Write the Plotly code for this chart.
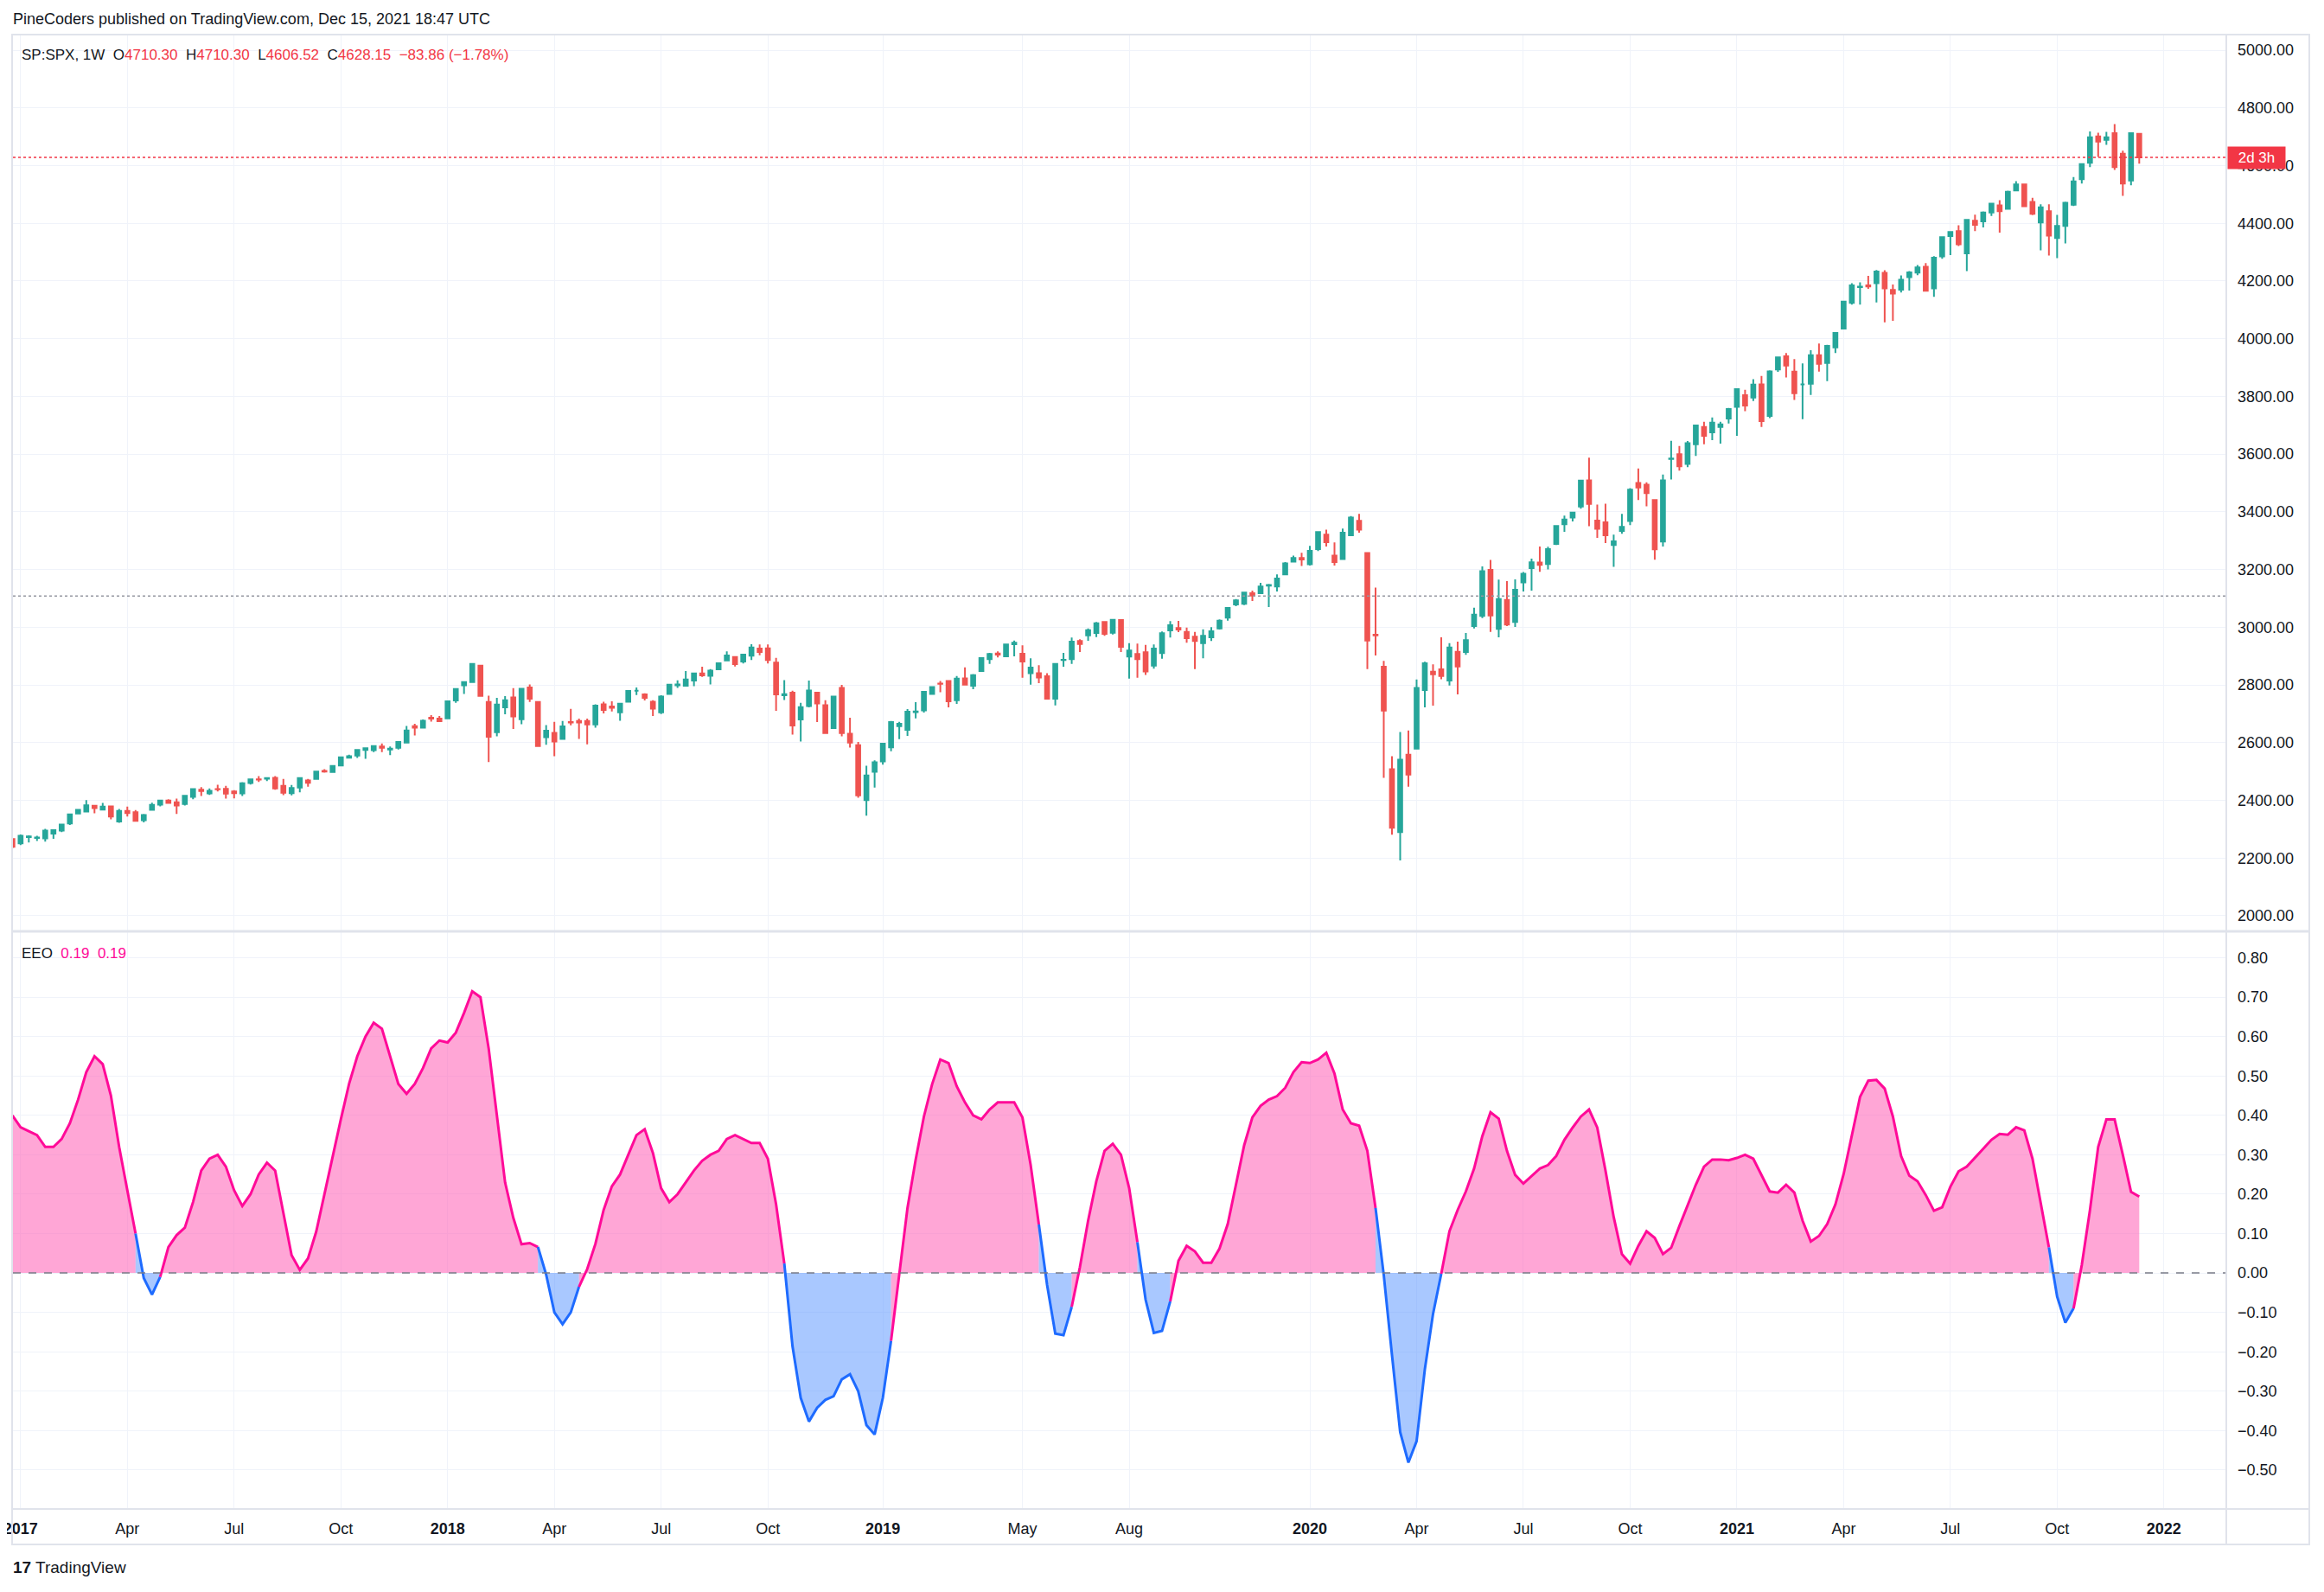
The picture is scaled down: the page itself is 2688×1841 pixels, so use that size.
import pandas as pd
import plotly.graph_objects as go

# ---------------- data ----------------
WEEKS = pd.date_range("2016-12-26", periods=260, freq="7D")  # weekly bars (Monday stamps)

OPEN = [2266, 2251, 2273, 2270, 2268, 2285, 2295, 2320, 2354, 2361,
        2381, 2368, 2379, 2327, 2363, 2359, 2331, 2367, 2385, 2399,
        2393, 2387, 2412, 2437, 2424, 2439, 2440, 2431, 2424, 2460,
        2473, 2475, 2478, 2450, 2425, 2444, 2469, 2474, 2502, 2498,
        2521, 2548, 2555, 2575, 2574, 2587, 2576, 2582, 2600, 2657,
        2652, 2686, 2683, 2684, 2746, 2799, 2810, 2867, 2741, 2636,
        2722, 2757, 2681, 2791, 2741, 2619, 2634, 2613, 2671, 2675,
        2675, 2663, 2733, 2725, 2705, 2742, 2780, 2767, 2742, 2705,
        2769, 2799, 2797, 2815, 2840, 2832, 2854, 2885, 2897, 2881,
        2901, 2926, 2927, 2877, 2764, 2773, 2680, 2727, 2773, 2730,
        2650, 2790, 2631, 2591, 2401, 2499, 2535, 2584, 2657, 2644,
        2706, 2712, 2769, 2805, 2814, 2747, 2823, 2797, 2848, 2889,
        2909, 2899, 2941, 2908, 2841, 2841, 2830, 2752, 2886, 2889,
        2952, 2972, 2980, 3018, 2981, 3025, 2898, 2907, 2913, 2867,
        2910, 2989, 2997, 2984, 2967, 2945, 2965, 2996, 3033, 3079,
        3081, 3118, 3118, 3144, 3141, 3183, 3227, 3240, 3218, 3271,
        3321, 3248, 3236, 3319, 3369, 3257, 2974, 2863, 2508, 2290,
        2558, 2579, 2782, 2846, 2854, 2815, 2915, 2914, 3004, 3039,
        3199, 2994, 3095, 3018, 3155, 3205, 3224, 3219, 3289, 3357,
        3380, 3418, 3509, 3370, 3364, 3285, 3334, 3368, 3500, 3494,
        3441, 3297, 3583, 3600, 3566, 3634, 3694, 3675, 3694, 3723,
        3764, 3804, 3796, 3842, 3732, 3893, 3939, 3886, 3842, 3844,
        3943, 3916, 3970, 4035, 4124, 4179, 4185, 4192, 4228, 4169,
        4170, 4213, 4229, 4249, 4174, 4285, 4356, 4373, 4296, 4409,
        4407, 4437, 4462, 4450, 4514, 4535, 4474, 4403, 4442, 4349,
        4391, 4464, 4553, 4610, 4701, 4689, 4712, 4641, 4548, 4710.30]

HIGH = [2267, 2282, 2279, 2277, 2301, 2300, 2319, 2352, 2368, 2401,
        2382, 2391, 2382, 2370, 2378, 2366, 2353, 2392, 2399, 2404,
        2406, 2418, 2441, 2446, 2441, 2454, 2450, 2435, 2463, 2474,
        2484, 2478, 2484, 2474, 2453, 2480, 2474, 2500, 2508, 2520,
        2552, 2558, 2575, 2583, 2588, 2597, 2587, 2605, 2658, 2665,
        2680, 2695, 2692, 2743, 2787, 2808, 2873, 2870, 2763, 2755,
        2761, 2789, 2787, 2802, 2742, 2661, 2672, 2675, 2717, 2683,
        2683, 2733, 2742, 2743, 2737, 2779, 2791, 2771, 2747, 2764,
        2804, 2816, 2848, 2841, 2863, 2855, 2877, 2916, 2900, 2906,
        2941, 2940, 2940, 2894, 2817, 2780, 2738, 2815, 2775, 2747,
        2760, 2800, 2686, 2602, 2520, 2539, 2597, 2675, 2672, 2716,
        2740, 2776, 2794, 2814, 2817, 2831, 2861, 2838, 2894, 2911,
        2916, 2940, 2954, 2937, 2892, 2868, 2841, 2876, 2911, 2964,
        2958, 2996, 3018, 3018, 3028, 3028, 2945, 2943, 2939, 2940,
        2985, 3021, 3022, 2999, 2984, 2993, 3000, 3027, 3067, 3098,
        3121, 3127, 3154, 3150, 3183, 3226, 3248, 3258, 3282, 3330,
        3338, 3294, 3342, 3385, 3393, 3260, 3137, 2883, 2553, 2637,
        2642, 2819, 2880, 2871, 2965, 2945, 2950, 2980, 3068, 3211,
        3233, 3165, 3160, 3166, 3191, 3238, 3280, 3279, 3352, 3387,
        3400, 3509, 3588, 3425, 3428, 3321, 3393, 3482, 3550, 3502,
        3441, 3529, 3646, 3628, 3645, 3701, 3712, 3727, 3712, 3760,
        3827, 3823, 3860, 3871, 3890, 3937, 3950, 3929, 3914, 3960,
        3983, 3979, 4020, 4130, 4192, 4195, 4218, 4238, 4237, 4188,
        4219, 4234, 4255, 4262, 4286, 4355, 4373, 4393, 4415, 4430,
        4441, 4470, 4480, 4513, 4546, 4536, 4488, 4466, 4466, 4429,
        4475, 4560, 4608, 4718, 4714, 4717, 4744, 4652, 4713, 4710.30]

LOW = [2234, 2245, 2254, 2259, 2257, 2267, 2290, 2315, 2352, 2358,
       2355, 2366, 2334, 2322, 2344, 2328, 2324, 2367, 2379, 2389,
       2353, 2382, 2404, 2415, 2419, 2431, 2406, 2407, 2415, 2455,
       2464, 2467, 2437, 2418, 2417, 2428, 2447, 2474, 2496, 2495,
       2521, 2546, 2547, 2544, 2567, 2567, 2557, 2576, 2598, 2625,
       2651, 2673, 2673, 2682, 2738, 2769, 2809, 2759, 2533, 2622,
       2698, 2647, 2664, 2741, 2586, 2593, 2553, 2611, 2660, 2613,
       2594, 2652, 2701, 2708, 2676, 2741, 2765, 2746, 2692, 2699,
       2766, 2790, 2795, 2796, 2828, 2802, 2853, 2884, 2864, 2874,
       2886, 2903, 2874, 2710, 2748, 2628, 2604, 2722, 2671, 2631,
       2649, 2622, 2583, 2409, 2347, 2444, 2524, 2570, 2612, 2623,
       2684, 2704, 2766, 2775, 2722, 2734, 2800, 2785, 2848, 2873,
       2895, 2899, 2899, 2825, 2801, 2806, 2750, 2729, 2863, 2873,
       2914, 2953, 2966, 2970, 2975, 2914, 2822, 2825, 2835, 2856,
       2891, 2964, 2983, 2946, 2855, 2892, 2952, 2992, 3023, 3073,
       3077, 3091, 3118, 3070, 3124, 3183, 3227, 3212, 3214, 3264,
       3280, 3214, 3234, 3316, 3328, 2855, 2902, 2478, 2281, 2192,
       2447, 2579, 2722, 2728, 2820, 2798, 2767, 2904, 2996, 3032,
       2984, 2965, 3004, 3001, 3124, 3127, 3192, 3200, 3285, 3331,
       3367, 3411, 3350, 3310, 3292, 3209, 3324, 3354, 3441, 3419,
       3234, 3280, 3512, 3543, 3555, 3594, 3634, 3648, 3636, 3706,
       3663, 3749, 3784, 3694, 3725, 3885, 3866, 3788, 3721, 3805,
       3886, 3853, 3950, 4035, 4118, 4118, 4173, 4126, 4057, 4062,
       4160, 4167, 4220, 4165, 4145, 4277, 4290, 4321, 4234, 4373,
       4386, 4425, 4368, 4448, 4513, 4457, 4428, 4306, 4288, 4279,
       4330, 4460, 4538, 4595, 4630, 4672, 4585, 4495, 4532, 4606.52]

CLOSE = [2239, 2277, 2275, 2271, 2295, 2297, 2316, 2351, 2367, 2383,
         2373, 2378, 2344, 2363, 2356, 2329, 2349, 2384, 2399, 2391,
         2382, 2416, 2439, 2432, 2433, 2438, 2423, 2425, 2459, 2473,
         2472, 2477, 2441, 2426, 2443, 2477, 2461, 2500, 2500, 2519,
         2549, 2553, 2575, 2581, 2588, 2582, 2579, 2602, 2642, 2652,
         2676, 2683, 2674, 2743, 2786, 2810, 2873, 2762, 2620, 2732,
         2747, 2691, 2787, 2752, 2588, 2641, 2604, 2656, 2670, 2670,
         2663, 2728, 2713, 2721, 2735, 2779, 2780, 2755, 2718, 2760,
         2801, 2802, 2819, 2840, 2833, 2850, 2875, 2902, 2872, 2905,
         2930, 2914, 2886, 2767, 2768, 2659, 2723, 2781, 2736, 2633,
         2760, 2633, 2600, 2417, 2486, 2532, 2596, 2671, 2665, 2707,
         2708, 2776, 2793, 2804, 2743, 2822, 2801, 2834, 2893, 2907,
         2905, 2940, 2946, 2881, 2860, 2826, 2752, 2873, 2887, 2950,
         2942, 2990, 3014, 2977, 3026, 2932, 2919, 2889, 2847, 2926,
         2979, 3007, 2992, 2962, 2952, 2970, 2986, 3023, 3067, 3093,
         3120, 3110, 3141, 3146, 3169, 3221, 3240, 3235, 3265, 3330,
         3295, 3226, 3328, 3380, 3338, 2954, 2972, 2711, 2305, 2541,
         2489, 2790, 2875, 2837, 2831, 2930, 2864, 2955, 3044, 3194,
         3041, 3098, 3009, 3130, 3185, 3225, 3216, 3271, 3351, 3373,
         3397, 3508, 3427, 3341, 3319, 3298, 3348, 3477, 3484, 3465,
         3270, 3509, 3585, 3558, 3638, 3699, 3663, 3709, 3703, 3756,
         3825, 3768, 3841, 3714, 3887, 3935, 3907, 3811, 3842, 3943,
         3913, 3975, 4020, 4129, 4185, 4180, 4181, 4233, 4174, 4156,
         4204, 4230, 4247, 4166, 4281, 4352, 4370, 4327, 4412, 4395,
         4437, 4468, 4442, 4509, 4535, 4459, 4433, 4455, 4357, 4391,
         4471, 4545, 4605, 4698, 4683, 4698, 4595, 4538, 4712.01, 4628.15]

EEO = [0.40, 0.37, 0.36, 0.35, 0.32, 0.32, 0.34, 0.38, 0.44, 0.51,
       0.55, 0.53, 0.45, 0.32, 0.21, 0.10, -0.013, -0.055, -0.01, 0.066,
       0.096, 0.115, 0.18, 0.26, 0.29, 0.30, 0.27, 0.21, 0.17, 0.20,
       0.25, 0.28, 0.26, 0.15, 0.045, 0.008, 0.037, 0.105, 0.20, 0.30,
       0.39, 0.48, 0.55, 0.60, 0.635, 0.62, 0.55, 0.48, 0.455, 0.48,
       0.52, 0.57, 0.59, 0.585, 0.61, 0.66, 0.715, 0.70, 0.57, 0.405,
       0.23, 0.14, 0.073, 0.076, 0.066, -0.004, -0.10, -0.13, -0.10, -0.035,
       0.01, 0.074, 0.16, 0.22, 0.25, 0.30, 0.35, 0.365, 0.305, 0.215,
       0.18, 0.20, 0.23, 0.26, 0.285, 0.30, 0.31, 0.34, 0.35, 0.34,
       0.33, 0.33, 0.29, 0.174, 0.024, -0.186, -0.317, -0.377, -0.342, -0.322,
       -0.313, -0.27, -0.257, -0.30, -0.386, -0.41, -0.317, -0.172, 0.002, 0.165,
       0.288, 0.397, 0.479, 0.542, 0.533, 0.474, 0.433, 0.40, 0.39, 0.415,
       0.433, 0.433, 0.433, 0.395, 0.274, 0.123, -0.03, -0.154, -0.158, -0.086,
       0.015, 0.133, 0.233, 0.31, 0.328, 0.30, 0.215, 0.078, -0.068, -0.152,
       -0.147, -0.072, 0.031, 0.069, 0.055, 0.026, 0.026, 0.062, 0.124, 0.224,
       0.324, 0.395, 0.424, 0.44, 0.449, 0.47, 0.51, 0.535, 0.533, 0.542,
       0.559, 0.506, 0.415, 0.38, 0.374, 0.31, 0.165, -0.005, -0.208, -0.404,
       -0.481, -0.427, -0.245, -0.104, -0.002, 0.106, 0.16, 0.207, 0.265, 0.347,
       0.408, 0.392, 0.31, 0.249, 0.227, 0.247, 0.265, 0.274, 0.297, 0.338,
       0.369, 0.397, 0.415, 0.369, 0.26, 0.142, 0.048, 0.024, 0.069, 0.106,
       0.089, 0.048, 0.064, 0.119, 0.172, 0.224, 0.27, 0.288, 0.288, 0.286,
       0.292, 0.30, 0.29, 0.25, 0.207, 0.204, 0.224, 0.204, 0.133, 0.08,
       0.094, 0.124, 0.174, 0.251, 0.351, 0.447, 0.488, 0.49, 0.468, 0.397,
       0.297, 0.247, 0.233, 0.198, 0.158, 0.167, 0.219, 0.258, 0.27, 0.292,
       0.315, 0.338, 0.353, 0.351, 0.37, 0.362, 0.29, 0.18, 0.065, -0.06,
       -0.126, -0.09, 0.02, 0.16, 0.32, 0.39, 0.39, 0.30, 0.206, 0.194]

TICK_DATES = ["2017-01-02", "2017-04-03", "2017-07-03", "2017-10-02", "2018-01-01",
              "2018-04-02", "2018-07-02", "2018-10-01", "2019-01-07", "2019-05-06",
              "2019-08-05", "2020-01-06", "2020-04-06", "2020-07-06", "2020-10-05",
              "2021-01-04", "2021-04-05", "2021-07-05", "2021-10-04", "2022-01-03"]
TICK_TEXT = ["<b>2017</b>", "Apr", "Jul", "Oct", "<b>2018</b>", "Apr", "Jul", "Oct",
             "<b>2019</b>", "May", "Aug", "<b>2020</b>", "Apr", "Jul", "Oct",
             "<b>2021</b>", "Apr", "Jul", "Oct", "<b>2022</b>"]
REF_LEVEL = 3108          # grey dotted price line
COUNTDOWN = "2d 3h"

# ---------------- styling ----------------
OFF = 8                       # browser body margin
W, H = 2688 - 2 * OFF, 1841 - 2 * OFF
ML, MR, MT, MB = 15 - OFF, W - (2575 - OFF), 40 - OFF, H - (1745 - OFF)
PW, PH = W - ML - MR, H - MT - MB
FONT = "Liberation Sans, Arial, sans-serif"
TXT = "#131722"
UP, DN = "#26A69A", "#EF5350"
RED = "#F23645"
GRID = "#F0F3FA"
BORDER = "#E0E3EB"
PINK_L, PINK_F = "#FF0A98", "rgba(255,93,180,0.55)"
BLUE_L, BLUE_F = "#1E6BFF", "rgba(90,150,255,0.52)"


def fx(px):   # absolute screen x -> paper
    return (px - OFF - ML) / PW


def fy(py):   # absolute screen y -> paper
    return (H - MB - (py - OFF)) / PH


fig = go.Figure()

fig.add_trace(go.Candlestick(
    x=WEEKS, open=OPEN, high=HIGH, low=LOW, close=CLOSE,
    increasing=dict(line=dict(color=UP, width=2), fillcolor=UP),
    decreasing=dict(line=dict(color=DN, width=2), fillcolor=DN),
    whiskerwidth=0, xaxis="x", yaxis="y", showlegend=False, hoverinfo="skip"))

# oscillator: segments coloured by sign of the end bar
n = len(EEO)
cols = ["neg" if v < 0 else "pos" for v in EEO]
runs = []
s = 1
for i in range(2, n + 1):
    if i == n or cols[i] != cols[s]:
        runs.append((s - 1, i - 1, cols[s]))
        s = i

xs = list(WEEKS)
for a, b, c in runs:
    px_ = [xs[a]] + xs[a:b + 1] + [xs[b]]
    py_ = [0] + EEO[a:b + 1] + [0]
    fig.add_trace(go.Scatter(x=px_, y=py_, mode="none", fill="toself",
                             fillcolor=PINK_F if c == "pos" else BLUE_F,
                             xaxis="x2", yaxis="y2", showlegend=False, hoverinfo="skip"))
for a, b, c in runs:
    fig.add_trace(go.Scatter(x=xs[a:b + 1], y=EEO[a:b + 1], mode="lines",
                             line=dict(color=PINK_L if c == "pos" else BLUE_L, width=3),
                             xaxis="x2", yaxis="y2", showlegend=False, hoverinfo="skip"))

xr = ["2016-12-26 12:00", "2022-02-25 05:00"]
fig.update_layout(
    width=W, height=H, margin=dict(l=ML, r=MR, t=MT, b=MB, autoexpand=False),
    paper_bgcolor="white", plot_bgcolor="white", showlegend=False,
    font=dict(family=FONT, size=18, color=TXT),
    xaxis=dict(type="date", range=xr, domain=[0, 1], anchor="y", showticklabels=False,
               tickvals=TICK_DATES, showgrid=True, gridcolor=GRID, gridwidth=1.2,
               rangeslider=dict(visible=False), zeroline=False, showline=False, ticks="",
               automargin=False),
    xaxis2=dict(type="date", range=xr, domain=[0, 1], anchor="y2", matches="x",
                tickvals=TICK_DATES, ticktext=TICK_TEXT, showgrid=True, gridcolor=GRID,
                gridwidth=1.2, zeroline=False, showline=False, ticks="",
                tickfont=dict(size=18, color=TXT), ticklabelstandoff=10, automargin=False,
                ticklabeloverflow="allow"),
    yaxis=dict(domain=[fy(1076), 1], range=[1949, 5054], side="right", anchor="x",
               dtick=200, tick0=2000, tickformat=".2f", showgrid=True, gridcolor=GRID,
               gridwidth=1.2, zeroline=False, ticks="", ticklabelstandoff=12,
               tickfont=dict(size=18, color=TXT), automargin=False),
    yaxis2=dict(domain=[0, fy(1078)], range=[-0.599, 0.865], side="right", anchor="x2",
                dtick=0.1, tick0=0, tickformat=".2f", showgrid=True, gridcolor=GRID,
                gridwidth=1.2, zeroline=False, ticks="", ticklabelstandoff=12,
                tickfont=dict(size=18, color=TXT), automargin=False),
)

shapes = [
    dict(type="line", xref="paper", yref="y", x0=0, x1=1, y0=CLOSE[-1], y1=CLOSE[-1],
         line=dict(color=RED, width=1.5, dash="dot")),
    dict(type="line", xref="paper", yref="y", x0=0, x1=1, y0=REF_LEVEL, y1=REF_LEVEL,
         line=dict(color="#9598A1", width=1.5, dash="dot")),
    dict(type="line", xref="paper", yref="y2", x0=0, x1=1, y0=0, y1=0,
         line=dict(color="#787B86", width=1.5, dash="dash")),
    # frame
    dict(type="rect", xref="paper", yref="paper", x0=fx(14), x1=fx(2671), y0=fy(1786), y1=fy(40),
         line=dict(color=BORDER, width=2)),
    dict(type="line", xref="paper", yref="paper", x0=fx(2575), x1=fx(2575), y0=fy(1786), y1=fy(40),
         line=dict(color=BORDER, width=2)),
    dict(type="line", xref="paper", yref="paper", x0=fx(14), x1=fx(2671), y0=fy(1077), y1=fy(1077),
         line=dict(color=BORDER, width=3)),
    dict(type="line", xref="paper", yref="paper", x0=fx(14), x1=fx(2671), y0=fy(1745), y1=fy(1745),
         line=dict(color=BORDER, width=2)),
]
fig.update_layout(shapes=shapes)

chg = CLOSE[-1] - CLOSE[-2]
pct = chg / CLOSE[-2] * 100


def red(t):
    return f"<span style='color:{RED}'>{t}</span>"


legend = ("SP:SPX, 1W&nbsp;&nbsp;O" + red(f"{OPEN[-1]:.2f}") + "&nbsp;&nbsp;H" + red(f"{HIGH[-1]:.2f}")
          + "&nbsp;&nbsp;L" + red(f"{LOW[-1]:.2f}") + "&nbsp;&nbsp;C" + red(f"{CLOSE[-1]:.2f}")
          + "&nbsp;&nbsp;" + red(f"−{abs(chg):.2f} (−{abs(pct):.2f}%)"))
eeo_leg = ("EEO&nbsp;&nbsp;<span style='color:#FF0A98'>" + f"{EEO[-1]:.2f}" + "</span>&nbsp;&nbsp;"
           + "<span style='color:#FF0A98'>" + f"{EEO[-1]:.2f}" + "</span>")

ann = [
    dict(text="PineCoders published on TradingView.com, Dec 15, 2021 18:47 UTC",
         xref="paper", yref="paper", x=fx(13), y=fy(22), xanchor="left", yanchor="middle",
         showarrow=False, font=dict(size=18, color=TXT)),
    dict(text=legend, xref="paper", yref="paper", x=fx(23), y=fy(63), xanchor="left",
         yanchor="middle", showarrow=False, font=dict(size=17, color=TXT)),
    dict(text=eeo_leg, xref="paper", yref="paper", x=fx(23), y=fy(1102), xanchor="left",
         yanchor="middle", showarrow=False, font=dict(size=17, color=TXT)),
    dict(text=COUNTDOWN, xref="paper", yref="y", x=fx(2576), y=CLOSE[-1], xanchor="left",
         yanchor="middle", showarrow=False, bgcolor=RED, borderpad=3, width=60,
         font=dict(size=17, color="white")),
    dict(text="<b>17</b> TradingView", xref="paper", yref="paper", x=fx(13), y=fy(1813),
         xanchor="left", yanchor="middle", showarrow=False, font=dict(size=19, color=TXT)),
]
fig.update_layout(annotations=ann)

fig.write_html("out.html")
